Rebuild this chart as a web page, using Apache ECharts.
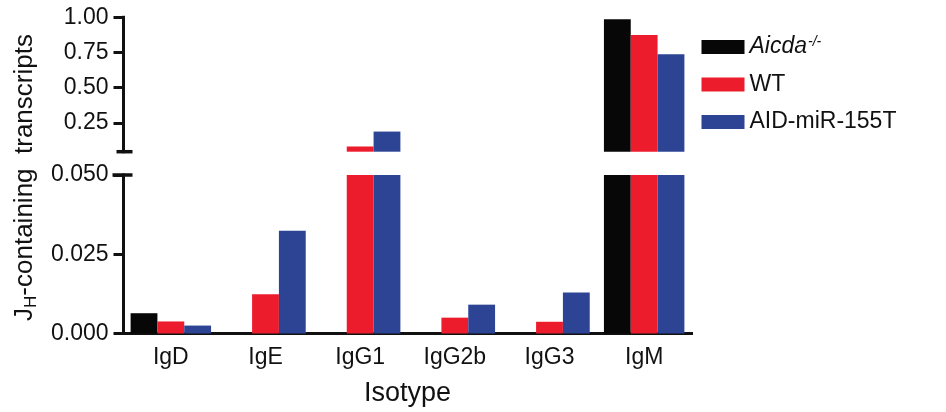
<!DOCTYPE html>
<html>
<head>
<meta charset="utf-8">
<script src="https://cdn.jsdelivr.net/npm/echarts@6/dist/echarts.min.js"></script>
<style>
  html, body { margin: 0; padding: 0; background: #fff; }
  #chart { width: 946px; height: 412px; }
</style>
</head>
<body>
<div id="chart"></div>
<script>
// Fraction of JH-containing transcripts per isotype
const isotypes = ['IgD', 'IgE', 'IgG1', 'IgG2b', 'IgG3', 'IgM'];
const seriesNames = ['Aicda-/-', 'WT', 'AID-miR-155T'];
const aicdaKO = [0.0064, 0, 0, 0, 0, 0.986];
const wildType = [0.0038, 0.0124, 0.082, 0.0050, 0.0037, 0.874];
const aidMir155T = [0.0025, 0.0324, 0.188, 0.0091, 0.0129, 0.737];
const upperTicks = [0.25, 0.5, 0.75, 1.0];
const lowerTicks = [0, 0.025, 0.05];

const colors = ['#070708', '#ec1c2d', '#2d4495'];
const font = "'Liberation Sans', Arial, Helvetica, sans-serif";
const ink = '#111';

const seriesData = [aicdaKO, wildType, aidMir155T];

const chart = echarts.init(document.getElementById('chart'), null, { renderer: 'canvas' });

// Upper panel (0.045 – 1.00) sits above the lower panel (0 – 0.050)
const grids = [
  { left: 123.5, right: 254.5, top: 17.3, height: 134.4 },
  { left: 123.5, right: 254.5, top: 175, height: 158.5 }
];

const axisLineStyle = { color: ink, width: 3, cap: 'square' };

const series = [];
seriesData.forEach((vals, i) => {
  [0, 1].forEach(g => {
    series.push({
      name: seriesNames[i],
      type: 'bar',
      xAxisIndex: g,
      yAxisIndex: g,
      data: vals,
      clip: true,
      barGap: '0%',
      barCategoryGap: '15%',
      itemStyle: { color: colors[i] },
      emphasis: { disabled: true },
      silent: true
    });
  });
});

chart.setOption({
  animation: false,
  backgroundColor: '#fff',
  grid: grids,
  legend: {
    left: 696.5,
    top: 30,
    orient: 'vertical',
    icon: 'rect',
    itemWidth: 43,
    itemHeight: 14,
    itemGap: 13.5,
    data: seriesNames,
    selectedMode: false,
    formatter: name => name === 'Aicda-/-' ? '{i|Aicda}{s|-/-}' : name,
    textStyle: {
      fontFamily: font,
      fontSize: 23,
      lineHeight: 24,
      color: ink,
      rich: {
        i: { fontFamily: font, fontSize: 23, fontStyle: 'italic', color: ink, lineHeight: 24 },
        s: { fontFamily: font, fontSize: 14, fontStyle: 'italic', color: ink, verticalAlign: 'top', padding: [0, 0, 10, 1] }
      }
    }
  },
  xAxis: [
    {
      type: 'category', gridIndex: 0, data: isotypes, show: false
    },
    {
      type: 'category', gridIndex: 1, data: isotypes,
      axisLine: { lineStyle: axisLineStyle },
      axisTick: { show: false },
      axisLabel: { fontFamily: font, fontSize: 23, color: ink, margin: 13 },
      name: 'Isotype',
      nameLocation: 'middle',
      nameGap: 47,
      nameTextStyle: { fontFamily: font, fontSize: 27, color: ink }
    }
  ],
  yAxis: [
    {
      type: 'value', gridIndex: 0, min: 0.045, max: 1.0,
      splitLine: { show: false },
      axisLine: { show: true, lineStyle: axisLineStyle },
      axisTick: { show: true, length: 10, lineStyle: { color: ink, width: 3 }, customValues: upperTicks },
      axisLabel: {
        fontFamily: font, fontSize: 23, color: ink, margin: 15,
        customValues: upperTicks,
        formatter: v => v.toFixed(2)
      }
    },
    {
      type: 'value', gridIndex: 1, min: 0, max: 0.05, interval: 0.025,
      splitLine: { show: false },
      axisLine: { show: true, lineStyle: axisLineStyle },
      axisTick: { show: true, length: 10, lineStyle: { color: ink, width: 3 }, customValues: lowerTicks },
      axisLabel: {
        fontFamily: font, fontSize: 23, color: ink, margin: 15,
        customValues: lowerTicks,
        formatter: v => v.toFixed(3)
      }
    }
  ],
  series: series
});

// Axis-break caps and the shared y-axis title, placed from the axes' own coordinates
const upperBottom = chart.convertToPixel({ gridIndex: 0 }, [0, 0.045]);
const lowerTop = chart.convertToPixel({ gridIndex: 1 }, [0, 0.05]);
const axisX = grids[0].left;

chart.setOption({
  graphic: [
    {
      type: 'line', silent: true,
      shape: { x1: axisX - 7, y1: upperBottom[1], x2: axisX + 9, y2: upperBottom[1] },
      style: { stroke: ink, lineWidth: 3.5 }
    },
    {
      type: 'line', silent: true,
      shape: { x1: axisX - 11, y1: lowerTop[1], x2: axisX + 9, y2: lowerTop[1] },
      style: { stroke: ink, lineWidth: 3.5 }
    },
    {
      type: 'text', silent: true,
      x: 25, y: 177.5,
      rotation: Math.PI / 2,
      style: {
        text: '{j|J}{h|H}{j|-containing  transcripts}',
        align: 'center',
        verticalAlign: 'middle',
        fill: ink,
        rich: {
          j: { fontFamily: font, fontSize: 26, fill: ink, lineHeight: 30 },
          h: { fontFamily: font, fontSize: 17, fill: ink, verticalAlign: 'bottom', lineHeight: 30, padding: [6, 0, 0, 0] }
        }
      }
    }
  ]
});
</script>
</body>
</html>
